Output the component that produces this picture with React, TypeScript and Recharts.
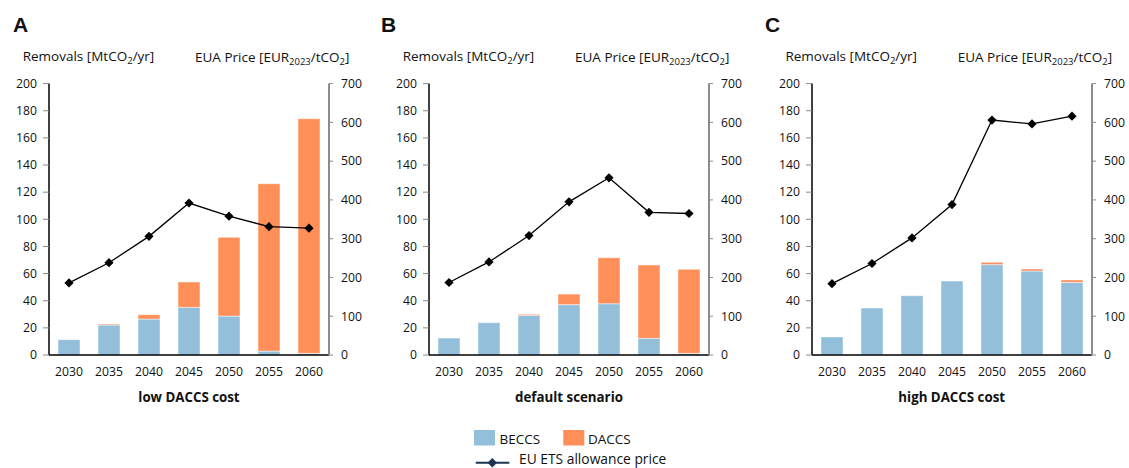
import React from 'react';
import { ComposedChart, Bar, Line, XAxis, YAxis } from 'recharts';

const years = ['2030', '2035', '2040', '2045', '2050', '2055', '2060'];

const lowBeccs = [11.3, 22.1, 26.5, 35.1, 28.7, 2.9, 1.2];
const lowDaccs = [0, 0.7, 3.2, 18.7, 58.0, 123.3, 172.9];
const lowPrice = [186, 238, 306, 392, 358, 331, 327];

const defBeccs = [12.5, 23.8, 29.2, 37.1, 37.8, 12.3, 1.2];
const defDaccs = [0, 0, 0.8, 7.8, 33.9, 54.0, 61.9];
const defPrice = [187, 240, 308, 395, 457, 368, 365];

const highBeccs = [13.3, 34.6, 43.7, 54.5, 66.6, 61.9, 53.5];
const highDaccs = [0, 0, 0, 0, 1.7, 1.5, 1.8];
const highPrice = [184, 236, 302, 388, 606, 596, 616];

const leftTicks = [0, 20, 40, 60, 80, 100, 120, 140, 160, 180, 200];
const rightTicks = [0, 100, 200, 300, 400, 500, 600, 700];

const panelLetters = ['A', 'B', 'C'];
const panelTitles = ['low DACCS cost', 'default scenario', 'high DACCS cost'];

const FONT = '"Open Sans", sans-serif';
const BECCS_COLOR = '#93bfdb';
const DACCS_COLOR = '#ff8f59';
const LEGEND_LINE = '#1c3552';

const build = (b: number[], d: number[], p: number[]) =>
  years.map((y, i) => ({ year: y, beccs: b[i], daccs: d[i], price: p[i] }));

const panels = [
  build(lowBeccs, lowDaccs, lowPrice),
  build(defBeccs, defDaccs, defPrice),
  build(highBeccs, highDaccs, highPrice),
];

const panelLefts = [0, 380, 762.7];

const Diamond = (props: any) => {
  const { cx, cy } = props;
  if (cx == null || cy == null) return null;
  const r = 4.6;
  return (
    <polygon
      points={`${cx},${cy - r} ${cx + r},${cy} ${cx},${cy + r} ${cx - r},${cy}`}
      fill="#000"
    />
  );
};

const tickStyle = { fontSize: 12.2, fill: '#111', fontFamily: FONT };

const Panel = ({ data }: { data: any[] }) => (
  <ComposedChart
    width={380}
    height={420}
    data={data}
    margin={{ top: 83.6, right: 0, bottom: 35, left: 0 }}
    barSize={22}
  >
    <XAxis
      dataKey="year"
      axisLine={{ stroke: '#000', strokeWidth: 1.5 }}
      tickLine={false}
      tickSize={0}
      tickMargin={12}
      height={30}
      tick={tickStyle}
      interval={0}
    />
    <YAxis
      yAxisId="left"
      width={49}
      domain={[0, 200]}
      ticks={leftTicks}
      interval={0}
      axisLine={{ stroke: '#000', strokeWidth: 1.5 }}
      tickLine={{ stroke: '#888' }}
      tickSize={6}
      tickMargin={6}
      tick={tickStyle}
    />
    <YAxis
      yAxisId="right"
      orientation="right"
      width={51}
      domain={[0, 700]}
      ticks={rightTicks}
      interval={0}
      axisLine={{ stroke: '#8c8c8c', strokeWidth: 2 }}
      tickLine={{ stroke: '#8c8c8c' }}
      tickSize={4}
      tickMargin={8}
      tick={tickStyle}
    />
    <Bar
      yAxisId="left"
      dataKey="beccs"
      stackId="s"
      fill={BECCS_COLOR}
      stroke="#ffffff"
      strokeOpacity={0.6}
      strokeWidth={0.8}
      isAnimationActive={false}
    />
    <Bar
      yAxisId="left"
      dataKey="daccs"
      stackId="s"
      fill={DACCS_COLOR}
      stroke="#ffffff"
      strokeOpacity={0.6}
      strokeWidth={0.8}
      isAnimationActive={false}
    />
    <Line
      yAxisId="right"
      dataKey="price"
      stroke="#000"
      strokeWidth={1.3}
      dot={<Diamond />}
      activeDot={false}
      isAnimationActive={false}
    />
  </ComposedChart>
);

export default function App() {
  return (
    <div
      style={{
        position: 'absolute',
        left: 0,
        top: 0,
        width: 1129,
        height: 468,
        background: '#fff',
        overflow: 'hidden',
        fontFamily: FONT,
      }}
    >
      {panels.map((data, i) => (
        <div key={i} style={{ position: 'absolute', left: panelLefts[i], top: 0 }}>
          <Panel data={data} />
        </div>
      ))}
      <svg
        width={1129}
        height={468}
        style={{ position: 'absolute', left: 0, top: 0, pointerEvents: 'none' }}
      >
        {panelLefts.map((pl, i) => (
          <g key={i}>
            <text
              x={[13, 381, 765][i]}
              y={31.5}
              fontFamily='"Liberation Sans", Arial, sans-serif'
              fontWeight="bold"
              fontSize={21}
              fill="#111"
            >
              {panelLetters[i]}
            </text>
            <text x={pl + 22.7} y={61} fontFamily={FONT} fontSize={13.5} fill="#111">
              Removals [MtCO
              <tspan fontSize={9.5} dy={3}>2</tspan>
              <tspan dy={-3}>/yr]</tspan>
            </text>
            <text x={pl + 195} y={61.5} fontFamily={FONT} fontSize={13.5} fill="#111">
              EUA Price [EUR
              <tspan fontSize={9.5} dy={3}>2023</tspan>
              <tspan dy={-3}>/tCO</tspan>
              <tspan fontSize={9.5} dy={3}>2</tspan>
              <tspan dy={-3}>]</tspan>
            </text>
            <text
              x={pl + 189}
              y={402}
              textAnchor="middle"
              fontFamily={FONT}
              fontWeight="bold"
              fontSize={13.3}
              fill="#111"
            >
              {panelTitles[i]}
            </text>
          </g>
        ))}
        <rect x={474} y={430} width={21} height={15.5} fill={BECCS_COLOR} />
        <text x={499.5} y={443.5} fontFamily={FONT} fontSize={13.5} fill="#111">
          BECCS
        </text>
        <rect x={563.3} y={430} width={21} height={15.5} fill={DACCS_COLOR} />
        <text x={588} y={443.5} fontFamily={FONT} fontSize={13.5} fill="#111">
          DACCS
        </text>
        <line x1={475.7} y1={462.7} x2={509.3} y2={462.7} stroke={LEGEND_LINE} strokeWidth={2} />
        <polygon
          points="492.3,458 497,462.7 492.3,467.4 487.6,462.7"
          fill={LEGEND_LINE}
        />
        <text x={519} y={464.3} fontFamily={FONT} fontSize={13.8} fill="#111">
          EU ETS allowance price
        </text>
      </svg>
    </div>
  );
}
